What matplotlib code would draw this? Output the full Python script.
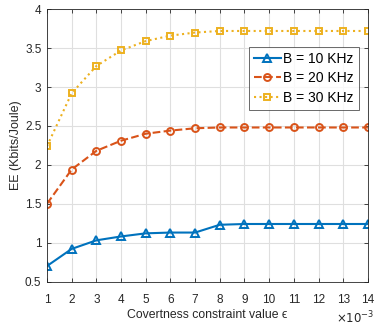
import matplotlib
matplotlib.use("Agg")
import matplotlib.pyplot as plt

plt.rcParams['font.family'] = ['Liberation Sans', 'DejaVu Sans']
plt.rcParams['mathtext.fontset'] = 'dejavusans'

x = list(range(1, 15))
ee_10 = [0.70, 0.92, 1.03, 1.08, 1.12, 1.13, 1.13, 1.23, 1.24, 1.24, 1.24, 1.24, 1.24, 1.24]
ee_20 = [1.50, 1.94, 2.18, 2.31, 2.40, 2.44, 2.47, 2.48, 2.48, 2.48, 2.48, 2.48, 2.48, 2.48]
ee_30 = [2.24, 2.92, 3.27, 3.47, 3.59, 3.66, 3.70, 3.72, 3.72, 3.72, 3.72, 3.72, 3.72, 3.72]
labels = ['B = 10 KHz', 'B = 20 KHz', 'B = 30 KHz']
yticks = [0.5, 1, 1.5, 2, 2.5, 3, 3.5, 4]

fig = plt.figure(figsize=(3.75, 3.28), dpi=100)
ax = fig.add_axes([0.1253, 0.1415, 0.8557, 0.8305])

ax.plot(x, ee_10, '-', color='#0072BD', lw=1.5, marker='^', ms=6, mfc='none', mew=1.4, label=labels[0])
ax.plot(x, ee_20, '--', color='#D95319', lw=1.5, marker='o', ms=5, mfc='none', mew=1.4, label=labels[1])
ax.plot(x, ee_30, ':', color='#EDB120', lw=1.5, marker='s', ms=4.5, mfc='none', mew=1.4, label=labels[2])

ax.set_xlim(1, 14)
ax.set_ylim(0.5, 4)
ax.set_xticks(x)
ax.set_xticklabels([str(v) for v in x])
ax.set_yticks(yticks)
ax.set_yticklabels(['0.5', '1', '1.5', '2', '2.5', '3', '3.5', '4'])
ax.grid(True, color='#dfdfdf', lw=0.8)
ax.set_axisbelow(True)
ax.tick_params(direction='in', top=True, right=True, labelsize=8.5, colors='#262626', length=3, width=0.6)
ax.tick_params(axis='x', pad=9)
ax.tick_params(axis='y', pad=4)
for s in ax.spines.values():
    s.set_color('#262626')
    s.set_linewidth(0.6)

ax.set_xlabel('Covertness constraint value \u03f5', fontsize=8.8, color='#262626', labelpad=2)
ax.set_ylabel('EE (Kbits/Joule)', fontsize=9, color='#262626', labelpad=2)
fig.text(0.998, 1 - 310 / 328, r'$\times10^{-3}$', ha='right', va='top', fontsize=8.5, color='#262626')

leg = ax.legend(loc='upper right', bbox_to_anchor=(0.972, 0.862), fontsize=10, frameon=True, fancybox=False,
                edgecolor='#262626', handlelength=1.9, handletextpad=0.2, borderpad=0.35, labelspacing=0.4,
                borderaxespad=0)
leg.get_frame().set_linewidth(0.6)

fig.savefig('out.png', dpi=100)
